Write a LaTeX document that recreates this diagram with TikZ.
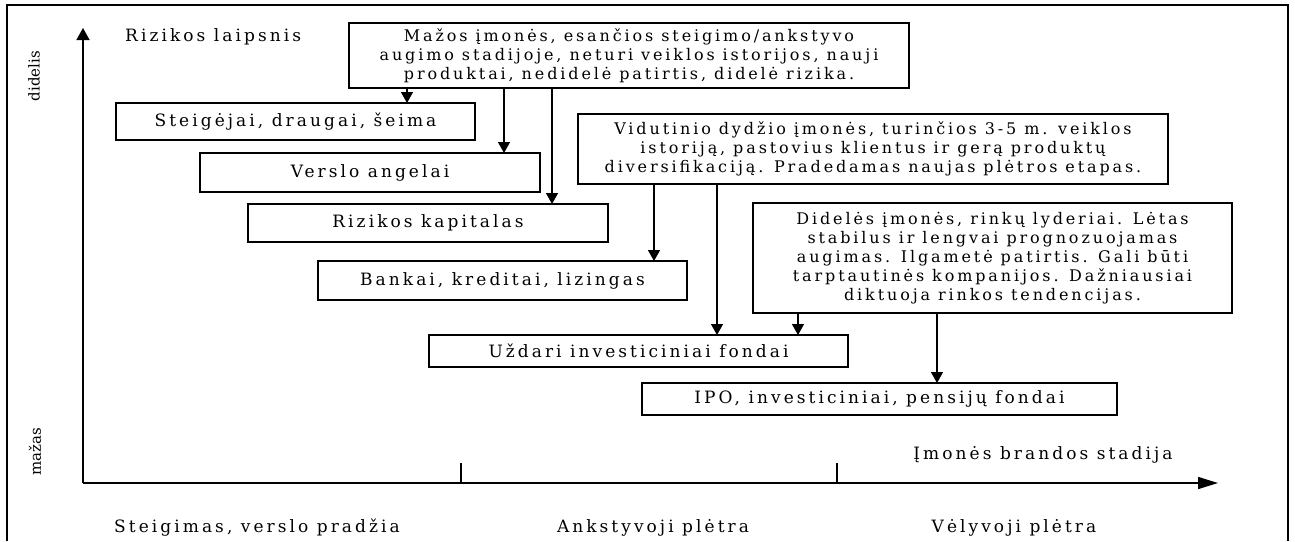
\documentclass[tikz,border=0pt]{standalone}
\usepackage{fontspec}
\setmainfont{DejaVu Serif}[LetterSpace=18]
\newfontfamily\tightserif{DejaVu Serif}
\usetikzlibrary{arrows.meta}
\begin{document}
\begin{tikzpicture}[x=1pt,y=-1pt,
  box/.style={draw, line width=1.4pt, inner sep=0pt, outer sep=0pt, align=center,
    font=\fontsize{16}{19}\selectfont},
  onebox/.style={box, font=\fontsize{17}{19}\selectfont},
  link/.style={line width=1.4pt, -{Triangle[width=12pt,length=11pt]}},
  axisline/.style={line width=1.5pt},
  framing/.style={line width=1.4pt},
  lbl/.style={inner sep=0pt, font=\fontsize{17}{19}\selectfont},
  vlbl/.style={inner sep=0pt, rotate=90, font=\tightserif\fontsize{15}{17}\selectfont}]
\useasboundingbox (0,0) rectangle (1295,541);

% outer frame (open at the bottom)
\coordinate (f1) at (7,541);
\coordinate (f2) at (7,5);
\coordinate (f3) at (1288,5);
\coordinate (f4) at (1288,541);
\draw[framing] (f1) -- (f2) -- (f3) -- (f4);

% axes
\coordinate (O) at (83,483);
\coordinate (ytip) at (83,28);
\coordinate (xtip) at (1218,483);
\draw[axisline, -{Triangle[width=13pt,length=12pt]}] (O) -- (ytip);
\draw[axisline, -{Triangle[width=12pt,length=20pt]}] (O) -- (xtip);
\coordinate (t1) at (461,463);
\coordinate (t2) at (837,463);
\draw[axisline] (t1) -- (t1 |- O);
\draw[axisline] (t2) -- (t2 |- O);

% axis labels
\node[lbl, anchor=west] (ylab) at (125,37) {Rizikos laipsnis};
\node[vlbl] (hi) at (34,76) {didelis};
\node[vlbl] (lo) at (35,452) {mažas};
\node[lbl] (xlab) at (1043,455) {Įmonės brandos stadija};
\node[lbl] (s1) at (257,528) {Steigimas, verslo pradžia};
\node[lbl] (s2) at (653,528) {Ankstyvoji plėtra};
\node[lbl] (s3) at (1014,528) {Vėlyvoji plėtra};

% company stage descriptions
\node[box, minimum width=560pt, minimum height=65pt] (maz) at (629,55.5)
  {Mažos įmonės, esančios steigimo/ankstyvo\\augimo stadijoje, neturi veiklos istorijos, nauji\\produktai, nedidelė patirtis, didelė rizika.};
\node[box, minimum width=590pt, minimum height=70pt] (vid) at (873,149)
  {Vidutinio dydžio įmonės, turinčios 3-5 m. veiklos\\istoriją, pastovius klientus ir gerą produktų\\diversifikaciją. Pradedamas naujas plėtros etapas.};
\node[box, minimum width=479pt, minimum height=110pt] (did) at (992.5,258)
  {Didelės įmonės, rinkų lyderiai. Lėtas\\stabilus ir lengvai prognozuojamas\\augimas. Ilgametė patirtis. Gali būti\\tarptautinės kompanijos. Dažniausiai\\diktuoja rinkos tendencijas.};

% financing sources
\node[onebox, minimum width=359pt, minimum height=37pt] (steig) at (295.5,121.5) {Steigėjai, draugai, šeima};
\node[onebox, minimum width=340pt, minimum height=39pt] (angel) at (370,172.5) {Verslo angelai};
\node[onebox, minimum width=360pt, minimum height=38pt] (rizk) at (428,223) {Rizikos kapitalas};
\node[onebox, minimum width=369pt, minimum height=39pt] (bank) at (502.5,280.5) {Bankai, kreditai, lizingas};
\node[onebox, minimum width=419pt, minimum height=32pt] (uzd) at (638.5,351) {Uždari investiciniai fondai};
\node[onebox, minimum width=475pt, minimum height=32pt] (ipo) at (879.5,399) {IPO, investiciniai, pensijų fondai};

% connector columns
\coordinate (c1) at (407,0);
\coordinate (c2) at (504,0);
\coordinate (c3) at (552,0);
\coordinate (c4) at (654,0);
\coordinate (c5) at (717,0);
\coordinate (c6) at (798,0);
\coordinate (c7) at (937,0);
\draw[link] (maz.south -| c1) -- (steig.north -| c1);
\draw[link] (maz.south -| c2) -- (angel.north -| c2);
\draw[link] (maz.south -| c3) -- (rizk.north -| c3);
\draw[link] (vid.south -| c4) -- (bank.north -| c4);
\draw[link] (vid.south -| c5) -- (uzd.north -| c5);
\draw[link] (did.south -| c6) -- (uzd.north -| c6);
\draw[link] (did.south -| c7) -- (ipo.north -| c7);
\end{tikzpicture}
\end{document}
